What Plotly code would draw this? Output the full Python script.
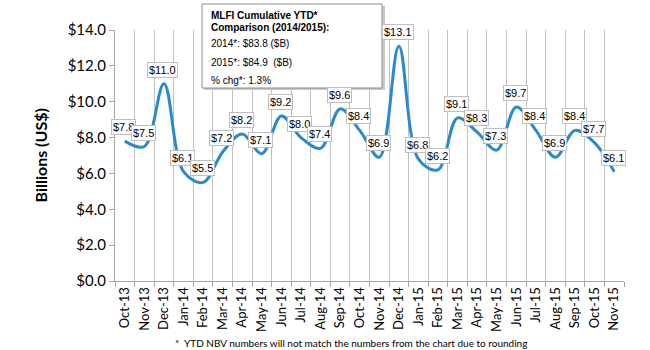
import plotly.graph_objects as go

months = ["Oct-13", "Nov-13", "Dec-13", "Jan-14", "Feb-14", "Mar-14", "Apr-14", "May-14",
          "Jun-14", "Jul-14", "Aug-14", "Sep-14", "Oct-14", "Nov-14", "Dec-14", "Jan-15",
          "Feb-15", "Mar-15", "Apr-15", "May-15", "Jun-15", "Jul-15", "Aug-15", "Sep-15",
          "Oct-15", "Nov-15"]
values = [7.8, 7.5, 11.0, 6.1, 5.5, 7.2, 8.2, 7.1, 9.2, 8.0, 7.4, 9.6, 8.4, 6.9, 13.1,
          6.8, 6.2, 9.1, 8.3, 7.3, 9.7, 8.4, 6.9, 8.4, 7.7, 6.1]
y_ticks = [0, 2, 4, 6, 8, 10, 12, 14]
y_tick_labels = [f"${v:.1f}" for v in y_ticks]

info_title = ["MLFI Cumulative YTD*", "Comparison (2014/2015):"]
info_lines = ["2014*: $83.8 ($B)", "2015*: $84.9  ($B)", "% chg*: 1.3%"]
footnote = "*  YTD NBV numbers will not match the numbers from the chart due to rounding"

W, H = 650, 350
L, R, T, B = 115, 26, 30, 69
PW, PH = W - L - R, H - T - B

def px_x(p):
    return (p - L) / PW

def px_y(p):
    return (H - B - p) / PH

fig = go.Figure()
fig.add_trace(go.Scatter(
    x=months, y=values, mode="lines",
    line=dict(color="#2a8ad0", width=3, shape="spline", smoothing=1.0),
    hoverinfo="skip", showlegend=False,
))

annotations = []
for m, v in zip(months, values):
    annotations.append(dict(
        x=m, y=v, xref="x", yref="y", text=f"${v:.1f}", showarrow=False,
        yanchor="bottom", yshift=6, xshift=-1, bgcolor="white", bordercolor="#bfbfbf",
        borderwidth=1, borderpad=1,
        font=dict(family="Liberation Sans, Arial", size=11, color="#000"),
    ))

# y-axis title
annotations.append(dict(
    x=px_x(40), y=0.5, xref="paper", yref="paper", text="<b>Billions (US$)</b>",
    textangle=-90, showarrow=False, xanchor="center", yanchor="middle",
    font=dict(family="Lato, Liberation Sans", size=16, color="#000"),
))

# info box text
info_y = [15, 27, 44, 62, 80]
info_texts = [f"<b>{t}</b>" for t in info_title] + info_lines
for t, yy in zip(info_texts, info_y):
    annotations.append(dict(
        x=px_x(209), y=px_y(yy), xref="paper", yref="paper", text=t,
        showarrow=False, xanchor="left", yanchor="middle",
        font=dict(family="Liberation Sans, Arial", size=10, color="#000"),
    ))

# footnote
annotations.append(dict(
    x=px_x(173), y=px_y(343), xref="paper", yref="paper", text=footnote,
    showarrow=False, xanchor="left", yanchor="middle",
    font=dict(family="Lato, Liberation Sans", size=10, color="#000"),
))

shapes = [
    dict(type="rect", xref="paper", yref="paper",
         x0=px_x(204), x1=px_x(385), y0=px_y(90), y1=px_y(6),
         fillcolor="#c8c8c8", line=dict(width=0), layer="above"),
    dict(type="rect", xref="paper", yref="paper",
         x0=px_x(202), x1=px_x(382), y0=px_y(88), y1=px_y(4),
         fillcolor="white", line=dict(color="#8c8c8c", width=1), layer="above"),
]

fig.update_layout(
    width=W, height=H, margin=dict(l=L, r=R, t=T, b=B),
    paper_bgcolor="white", plot_bgcolor="white",
    annotations=annotations, shapes=shapes,
    xaxis=dict(
        type="category", range=[-0.5, len(months) - 0.5], tickson="boundaries",
        showgrid=True, gridcolor="#c0c0c0", gridwidth=1,
        showline=True, linecolor="#a6a6a6", linewidth=1,
        ticks="outside", ticklen=5, tickcolor="#a6a6a6", tickangle=-90,
        tickfont=dict(family="Lato, Liberation Sans", size=13, color="#000"),
        fixedrange=True,
    ),
    yaxis=dict(
        range=[0, 14], tickmode="array", tickvals=y_ticks, ticktext=y_tick_labels,
        showgrid=False, zeroline=False,
        showline=True, linecolor="#a6a6a6", linewidth=1,
        ticks="outside", ticklen=5, tickcolor="#a6a6a6",
        tickfont=dict(family="Lato, Liberation Sans", size=15, color="#000"),
        fixedrange=True,
    ),
)

fig.write_html("out.html")
